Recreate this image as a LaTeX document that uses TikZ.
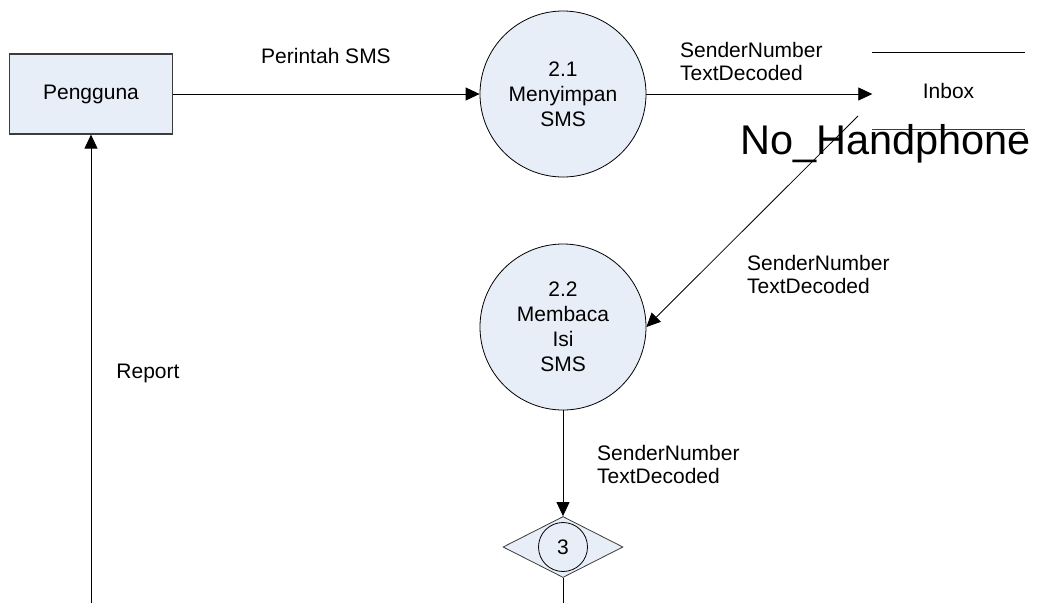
\documentclass[tikz,border=0pt]{standalone}
\usepackage{fontspec}
\setmainfont{Liberation Sans}
\usetikzlibrary{arrows.meta,shapes.geometric}
\definecolor{proc100}{HTML}{E8EEF8}
\definecolor{edge700}{HTML}{3C3C3C}
\tikzset{
  entity/.style ={draw=edge700, line width=1.2pt, fill=proc100,
                  minimum width=163pt, minimum height=80pt, inner sep=0pt,
                  font=\fontsize{21}{25}\selectfont},
  proc/.style   ={circle, draw=black, line width=0.8pt, fill=proc100,
                  minimum size=166pt, inner sep=0pt, align=center,
                  font=\fontsize{21}{25}\selectfont},
  store/.style  ={minimum width=152pt, minimum height=76pt, inner sep=0pt,
                  font=\fontsize{21}{25}\selectfont},
  gate/.style   ={diamond, aspect=2, draw=edge700, line width=0.8pt,
                  fill=proc100, minimum width=120pt, minimum height=61pt,
                  inner sep=0pt},
  ref/.style    ={circle, draw=black, line width=0.8pt, fill=proc100,
                  minimum size=49pt, inner sep=0pt,
                  font=\fontsize{21}{25}\selectfont},
  flow/.style   ={-{Triangle[length=14pt,width=13pt]}, draw=black,
                  line width=0.8pt},
  lbl/.style    ={font=\fontsize{21}{23}\selectfont, align=left,
                  inner sep=0pt}
}
\begin{document}
\begin{tikzpicture}[x=1pt, y=-1pt]
\useasboundingbox (0,0) rectangle (1042,603);

\node[entity] (pengguna) at (91,94) {Pengguna};
\node[proc] (p21) at (563,94) {2.1\\Menyimpan\\SMS};
\node[proc] (p22) at (563,327) {2.2\\Membaca\\Isi\\SMS};
\node[store] (inbox) at (948.5,91) {Inbox};
\node[gate] (gate3) at (563,547) {};
\node[ref] (ref3) at (gate3.center) {3};

% data store edges
\draw[line width=0.8pt] (inbox.north west) -- (inbox.north east);
\draw[line width=0.8pt, draw=edge700] (inbox.south west) -- (inbox.south east);
\node[anchor=base west, inner sep=0pt, font=\fontsize{41.5}{45}\selectfont]
  (hp) at (740,154) {No\_Handphone};

\coordinate (inboxout) at (858,116);
\coordinate (gateend) at (563,603);
\coordinate (reportend) at (91,603);

% flows
\draw[flow] (pengguna) -- (p21);
\draw[flow] (p21.east) -- (p21.east -| inbox.west);
\draw[flow] (inboxout) -- (p22.east);
\draw[flow] (p22) -- (gate3.north);
\draw[line width=0.8pt] (gate3.south) -- (gateend);
\draw[flow] (reportend) -- (pengguna.south);

% labels
\node[lbl] (lperintah) at (326,56) {Perintah SMS};
\node[lbl, anchor=west] (lsave) at (680,61.5) {SenderNumber\\TextDecoded};
\node[lbl, anchor=west] (lread) at (747,274.5) {SenderNumber\\TextDecoded};
\node[lbl, anchor=west] (lout) at (597,464) {SenderNumber\\TextDecoded};
\node[lbl] (lreport) at (148,373) {Report};
\end{tikzpicture}
\end{document}
